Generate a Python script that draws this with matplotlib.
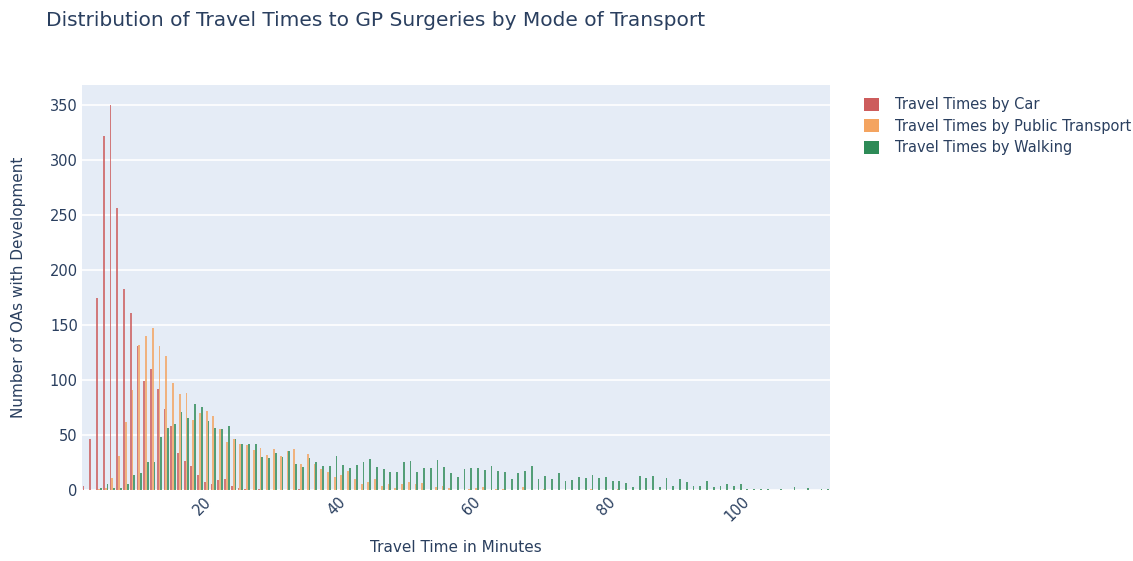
import numpy as np
import matplotlib
matplotlib.use("Agg")
import matplotlib.pyplot as plt
from matplotlib.patches import Patch

plt.rcParams['font.family'] = ['DejaVu Sans']

## one-minute bins, left edges 2..112
bin_edges = np.arange(2, 113)

car = [4, 46, 174, 322, 350, 256, 183, 161, 131, 99, 110, 92, 74, 58, 34, 26, 22, 14, 7, 5,
       9, 10, 4, 2, 1, 0, 1, 0, 0, 0, 0, 0, 1] + [0] * 78

public_transport = [0, 0, 1, 2, 11, 31, 62, 91, 132, 140, 147, 131, 122, 97, 87, 88, 64, 70, 72, 67,
                    55, 44, 46, 42, 41, 36, 38, 32, 37, 31, 35, 37, 24, 33, 24, 19, 16, 12, 14, 17,
                    10, 5, 7, 10, 4, 5, 2, 5, 7, 5, 6, 0, 3, 4, 2, 0, 0, 1, 2, 3,
                    0, 1, 1, 0, 0, 3, 0, 0, 1, 0, 0, 0, 0, 0, 0, 1, 0, 0, 0, 1] + [0] * 31

walking = [0, 0, 2, 5, 2, 2, 5, 14, 15, 25, 25, 48, 56, 60, 71, 65, 78, 75, 63, 56,
           55, 58, 46, 42, 42, 42, 30, 29, 34, 30, 35, 24, 21, 29, 25, 22, 22, 31, 23, 20,
           23, 25, 28, 21, 19, 16, 16, 25, 26, 16, 20, 20, 27, 21, 15, 12, 19, 20, 20, 18,
           22, 17, 16, 10, 15, 17, 22, 10, 13, 10, 15, 8, 9, 12, 11, 14, 11, 12, 8, 8,
           6, 3, 13, 11, 13, 3, 11, 4, 10, 7, 4, 4, 8, 3, 4, 5, 4, 5, 1, 1,
           1, 1, 0, 1, 0, 3, 0, 2, 0, 1, 1]

series = [("Travel Times by Car", car, "#cd5c5c"),
          ("Travel Times by Public Transport", public_transport, "#f4a460"),
          ("Travel Times by Walking", walking, "#2e8b57")]

text_col = "#2a3f5f"

fig = plt.figure(figsize=(11.33, 5.61), dpi=100)
ax = fig.add_axes([0.0724, 0.1266, 0.66, 0.722])
ax.set_facecolor("#e5ecf6")

gap = 0.2
w = (1 - gap) / 3
for j, (name, vals, col) in enumerate(series):
    ax.bar(bin_edges + gap / 2 + w * (j + 0.5), vals, width=w, color=col, alpha=0.8,
           linewidth=0, zorder=2)

ax.set_xlim(2, 113)
ax.set_ylim(0, 368)
ax.set_yticks(range(0, 351, 50))
ax.set_xticks([20, 40, 60, 80, 100])
ax.grid(axis='y', color='white', linewidth=1.2, zorder=1)
ax.set_axisbelow(True)
for s in ax.spines.values():
    s.set_visible(False)
ax.tick_params(length=0, colors=text_col, labelsize=10.5, pad=3)
plt.setp(ax.get_xticklabels(), rotation=45, ha='right', rotation_mode='anchor')

ax.set_xlabel("Travel Time in Minutes", color=text_col, fontsize=11, labelpad=11)
ax.set_ylabel("Number of OAs with Development", color=text_col, fontsize=11, labelpad=17)

fig.text(0.0406, 0.964, "Distribution of Travel Times to GP Surgeries by Mode of Transport",
         color=text_col, fontsize=14.5, va='center', ha='left')

handles = [Patch(facecolor=c, edgecolor='none') for _, _, c in series]
fig.legend(handles, [n for n, _, _ in series], loc='upper left', bbox_to_anchor=(0.751, 0.85),
           frameon=False, fontsize=10.5, handlelength=1.0, handleheight=1.0,
           handletextpad=1.1, labelspacing=0.45, labelcolor=text_col)

fig.savefig("out.png", dpi=100)
plt.close()
